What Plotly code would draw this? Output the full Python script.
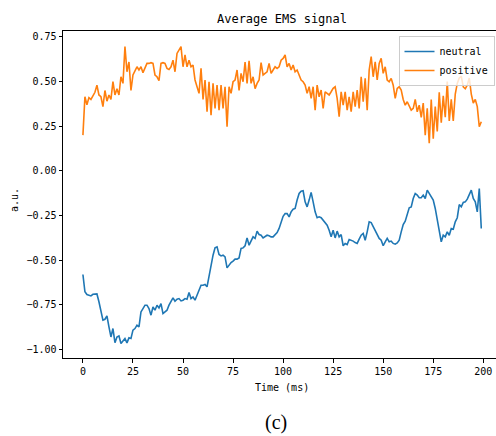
import plotly.graph_objects as go

time_ms = list(range(200))

neutral = [
    -0.581, -0.678, -0.693, -0.697, -0.701, -0.692, -0.693, -0.690, -0.734, -0.791,
    -0.837, -0.832, -0.813, -0.875, -0.931, -0.884, -0.963, -0.931, -0.925, -0.968,
    -0.955, -0.940, -0.964, -0.936, -0.940, -0.893, -0.884, -0.865, -0.875, -0.791,
    -0.772, -0.753, -0.753, -0.772, -0.809, -0.763, -0.781, -0.753, -0.768, -0.744,
    -0.800, -0.791, -0.781, -0.753, -0.731, -0.712, -0.731, -0.720, -0.716, -0.729,
    -0.725, -0.716, -0.720, -0.682, -0.716, -0.707, -0.725, -0.697, -0.669, -0.641,
    -0.641, -0.637, -0.650, -0.585, -0.519, -0.473, -0.432, -0.426, -0.469, -0.477,
    -0.473, -0.482, -0.544, -0.525, -0.514, -0.506, -0.495, -0.495, -0.488, -0.435,
    -0.432, -0.420, -0.376, -0.417, -0.389, -0.370, -0.379, -0.338, -0.357, -0.361,
    -0.376, -0.366, -0.361, -0.364, -0.370, -0.370, -0.357, -0.346, -0.323, -0.286,
    -0.255, -0.240, -0.240, -0.258, -0.230, -0.215, -0.211, -0.164, -0.127, -0.114,
    -0.112, -0.174, -0.202, -0.164, -0.121, -0.174, -0.230, -0.263, -0.258, -0.263,
    -0.277, -0.286, -0.305, -0.333, -0.370, -0.333, -0.376, -0.338, -0.370, -0.357,
    -0.420, -0.407, -0.413, -0.385, -0.389, -0.394, -0.402, -0.407, -0.383, -0.361,
    -0.351, -0.389, -0.342, -0.286, -0.290, -0.314, -0.333, -0.361, -0.379, -0.389,
    -0.420, -0.398, -0.379, -0.398, -0.394, -0.407, -0.411, -0.404, -0.389, -0.342,
    -0.301, -0.282, -0.245, -0.207, -0.202, -0.155, -0.127, -0.136, -0.151, -0.151,
    -0.136, -0.155, -0.108, -0.127, -0.146, -0.164, -0.211, -0.277, -0.342, -0.398,
    -0.361, -0.370, -0.342, -0.361, -0.323, -0.327, -0.286, -0.263, -0.189, -0.202,
    -0.177, -0.174, -0.159, -0.133, -0.108, -0.155, -0.174, -0.230, -0.099, -0.323,
]

positive = [
    0.200, 0.415, 0.370, 0.410, 0.400, 0.425, 0.440, 0.480, 0.425, 0.415,
    0.360, 0.450, 0.390, 0.425, 0.400, 0.500, 0.425, 0.460, 0.425, 0.527,
    0.490, 0.696, 0.555, 0.610, 0.450, 0.537, 0.565, 0.583, 0.565, 0.583,
    0.550, 0.574, 0.602, 0.602, 0.606, 0.602, 0.537, 0.527, 0.505, 0.602,
    0.606, 0.602, 0.574, 0.568, 0.583, 0.620, 0.555, 0.658, 0.677, 0.696,
    0.583, 0.649, 0.583, 0.620, 0.583, 0.593, 0.509, 0.471, 0.434, 0.574,
    0.400, 0.509, 0.331, 0.499, 0.312, 0.490, 0.350, 0.480, 0.340, 0.480,
    0.350, 0.471, 0.247, 0.471, 0.434, 0.499, 0.509, 0.565, 0.450, 0.546,
    0.499, 0.610, 0.490, 0.617, 0.490, 0.527, 0.460, 0.490, 0.509, 0.606,
    0.537, 0.546, 0.555, 0.602, 0.546, 0.565, 0.583, 0.574, 0.583, 0.620,
    0.630, 0.649, 0.583, 0.602, 0.565, 0.593, 0.555, 0.565, 0.537, 0.509,
    0.499, 0.480, 0.434, 0.471, 0.406, 0.471, 0.340, 0.480, 0.415, 0.453,
    0.350, 0.443, 0.434, 0.425, 0.443, 0.462, 0.471, 0.406, 0.303, 0.443,
    0.368, 0.443, 0.340, 0.415, 0.331, 0.443, 0.360, 0.453, 0.350, 0.527,
    0.387, 0.518, 0.340, 0.565, 0.640, 0.527, 0.610, 0.509, 0.602, 0.630,
    0.546, 0.583, 0.509, 0.499, 0.518, 0.480, 0.406, 0.462, 0.471, 0.453,
    0.400, 0.368, 0.387, 0.360, 0.340, 0.350, 0.400, 0.331, 0.368, 0.300,
    0.380, 0.200, 0.350, 0.155, 0.400, 0.180, 0.360, 0.220, 0.440, 0.270,
    0.420, 0.300, 0.500, 0.280, 0.400, 0.280, 0.430, 0.490, 0.520, 0.530,
    0.470, 0.460, 0.480, 0.520, 0.430, 0.380, 0.400, 0.360, 0.247, 0.275,
]

x_ticks = [0, 25, 50, 75, 100, 125, 150, 175, 200]
y_ticks = [-1.00, -0.75, -0.50, -0.25, 0.00, 0.25, 0.50, 0.75]

MONO = "DejaVu Sans Mono"

fig = go.Figure()
fig.add_trace(go.Scatter(x=time_ms, y=neutral, mode="lines", name="neutral",
                         line=dict(color="#1f77b4", width=1.6)))
fig.add_trace(go.Scatter(x=time_ms, y=positive, mode="lines", name="positive",
                         line=dict(color="#ff7f0e", width=1.6)))

L, R, T, B = 63, 0, 31, 78
W, H = 496, 436
pw, ph = W - L - R, H - T - B

def px(x):
    return (x - L) / pw

def py(y):
    return (H - B - y) / ph

fig.update_layout(
    width=W, height=H,
    margin=dict(l=L, r=R, t=T, b=B, pad=0),
    paper_bgcolor="white", plot_bgcolor="white",
    font=dict(family=MONO, size=10, color="black"),
    title=dict(text="Average EMS signal", font=dict(family=MONO, size=12, color="black"),
               xref="container", x=282 / W, xanchor="center",
               yref="container", y=1 - 18.5 / H, yanchor="middle"),
    showlegend=True,
    legend=dict(x=px(494.5), xanchor="right", y=py(36), yanchor="top",
                bgcolor="rgba(255,255,255,0.8)", bordercolor="#cccccc", borderwidth=1,
                font=dict(family=MONO, size=10, color="black"),
                tracegroupgap=0),
    xaxis=dict(range=[-9.95, 206.35], tickmode="array", tickvals=x_ticks,
               ticktext=[str(v) for v in x_ticks],
               showgrid=False, zeroline=False, showline=True, linecolor="black",
               linewidth=1, mirror=True, ticks="outside", ticklen=3.5, tickwidth=0.8,
               tickcolor="black", tickfont=dict(family=MONO, size=10)),
    yaxis=dict(range=[-1.049, 0.7835], tickmode="array", tickvals=y_ticks,
               ticktext=[f"{v:.2f}".replace("-", "\u2212") for v in y_ticks],
               showgrid=False, zeroline=False, showline=True, linecolor="black",
               linewidth=1, mirror=False, ticks="outside", ticklen=3.5, tickwidth=0.8,
               tickcolor="black", tickfont=dict(family=MONO, size=10)),
    annotations=[
        dict(text="Time (ms)", xref="paper", yref="paper", x=px(281.5), y=py(387),
             xanchor="center", yanchor="middle", showarrow=False,
             font=dict(family=MONO, size=10, color="black")),
        dict(text="a.u.", xref="paper", yref="paper", x=px(15), y=py(200),
             xanchor="center", yanchor="middle", showarrow=False, textangle=-90,
             font=dict(family=MONO, size=10, color="black")),
        dict(text="(c)", xref="paper", yref="paper", x=px(276), y=py(422),
             xanchor="center", yanchor="middle", showarrow=False,
             font=dict(family="Liberation Serif", size=20, color="black")),
    ],
)

fig.write_html("out.html", config={"displayModeBar": False},
               post_script="document.body.style.margin='0';document.body.style.overflow='hidden';")
